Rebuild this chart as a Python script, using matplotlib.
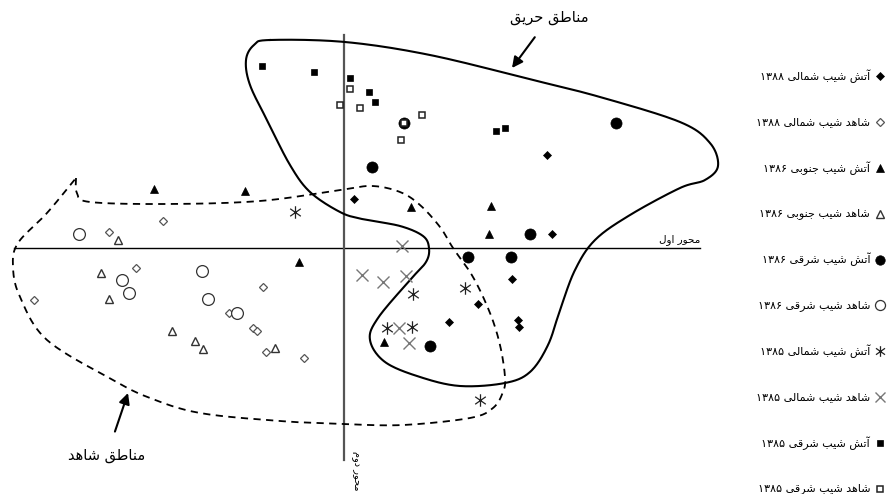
import numpy as np
import matplotlib
matplotlib.use('Agg')
import matplotlib.pyplot as plt
from matplotlib.path import Path

# ---------------- data (scores: x to the right, y upward, origin at axis crossing) ----------------
fire_n88_x = [203, 208, 168, 134, 105, 174, 175, 10]
fire_n88_y = [93, 14, -31, -56, -74, -72, -79, 49]
ctrl_n88_x = [-181, -235, -208, -310, -81, -115, -91, -87, -78, -40]
ctrl_n88_y = [27, 16, -20, -52, -39, -65, -80, -83, -104, -110]
fire_s86_x = [-190, -99, -45, 67, 147, 145, 40]
fire_s86_y = [59, 57, -14, 41, 42, 14, -94]
ctrl_s86_x = [-226, -243, -235, -172, -149, -141, -69]
ctrl_s86_y = [8, -25, -51, -83, -93, -101, -100]
fire_e86_x = [60, 272, 28, 186, 124, 167, 86]
fire_e86_y = [125, 125, 81, 14, -9, -9, -98]
ctrl_e86_x = [-265, -222, -215, -142, -136, -107]
ctrl_e86_y = [14, -32, -45, -23, -51, -65]
fire_n85_x = [-49, 69, 121, 43, 68, 136]
fire_n85_y = [36, -46, -40, -80, -79, -152]
ctrl_n85_x = [58, 18, 39, 62, 55, 65]
ctrl_n85_y = [2, -27, -34, -28, -80, -95]
fire_e85_x = [-82, -30, 6, 25, 31, 152, 161]
fire_e85_y = [182, 176, 170, 156, 146, 117, 120]
ctrl_e85_x = [6, -4, 16, 78, 57, 60]
ctrl_e85_y = [159, 143, 140, 133, 108, 125]

legend_labels = ['آتش شیب شمالی ۱۳۸۸', 'شاهد شیب شمالی ۱۳۸۸',
                 'آتش شیب جنوبی ۱۳۸۶', 'شاهد شیب جنوبی ۱۳۸۶',
                 'آتش شیب شرقی ۱۳۸۶', 'شاهد شیب شرقی ۱۳۸۶',
                 'آتش شیب شمالی ۱۳۸۵', 'شاهد شیب شمالی ۱۳۸۵',
                 'آتش شیب شرقی ۱۳۸۵', 'شاهد شیب شرقی ۱۳۸۵']

# outlines of the hand drawn regions
fire_zone = [(-74, 208), (1, 206), (86, 193), (189, 168), (256, 151), (336, 126),
             (366, 105), (374, 82), (361, 68), (336, 60), (286, 33), (251, 8),
             (231, -22), (216, -62), (204, -97), (186, -124), (161, -135),
             (116, -138), (76, -129), (41, -114), (26, -92), (34, -70), (66, -32),
             (82, -14), (85, 0), (79, 12), (56, 22), (18, 29), (-4, 36), (-34, 56),
             (-54, 83), (-76, 126), (-94, 163), (-98, 188), (-90, 203)]
ctrl_zone = [(-268, 70), (-267, 55), (-254, 46), (-177, 44), (-84, 47), (-4, 58),
             (28, 62), (56, 56), (76, 43), (96, 21), (109, 0), (129, -29),
             (146, -65), (156, -97), (161, -129), (159, -144), (149, -160),
             (126, -170), (59, -177), (-1, -176), (-64, -173), (-144, -165),
             (-194, -150), (-231, -132), (-297, -92), (-324, -49), (-331, -19),
             (-326, 5), (-297, 35), (-268, 70)]

# ---------------- Persian shaping helpers ----------------
FORMS = {
    '\u0627': ('\uFE8D', '\uFE8E', None, None),
    '\u0622': ('\uFE81', '\uFE82', None, None),
    '\u0628': ('\uFE8F', '\uFE90', '\uFE91', '\uFE92'),
    '\u062A': ('\uFE95', '\uFE96', '\uFE97', '\uFE98'),
    '\u062C': ('\uFE9D', '\uFE9E', '\uFE9F', '\uFEA0'),
    '\u062D': ('\uFEA1', '\uFEA2', '\uFEA3', '\uFEA4'),
    '\u062F': ('\uFEA9', '\uFEAA', None, None),
    '\u0631': ('\uFEAD', '\uFEAE', None, None),
    '\u0634': ('\uFEB5', '\uFEB6', '\uFEB7', '\uFEB8'),
    '\u0637': ('\uFEC1', '\uFEC2', '\uFEC3', '\uFEC4'),
    '\u0642': ('\uFED5', '\uFED6', '\uFED7', '\uFED8'),
    '\u0644': ('\uFEDD', '\uFEDE', '\uFEDF', '\uFEE0'),
    '\u0645': ('\uFEE1', '\uFEE2', '\uFEE3', '\uFEE4'),
    '\u0646': ('\uFEE5', '\uFEE6', '\uFEE7', '\uFEE8'),
    '\u0647': ('\uFEE9', '\uFEEA', '\uFEEB', '\uFEEC'),
    '\u0648': ('\uFEED', '\uFEEE', None, None),
    '\u06CC': ('\uFEEF', '\uFEF0', '\uFEF3', '\uFEF4'),
    '\u064A': ('\uFEEF', '\uFEF0', '\uFEF3', '\uFEF4'),
}


def shape_word(w):
    if all(c not in FORMS for c in w):
        return w
    out = []
    n = len(w)
    for i, c in enumerate(w):
        if c not in FORMS:
            out.append(c)
            continue
        f = FORMS[c]
        prev = w[i - 1] if i > 0 else None
        nxt = w[i + 1] if i < n - 1 else None
        jp = prev in FORMS and FORMS[prev][2] is not None
        jn = nxt in FORMS and f[2] is not None
        if jp and jn:
            g = f[3]
        elif jp:
            g = f[1]
        elif jn:
            g = f[2]
        else:
            g = f[0]
        out.append(g)
    return ''.join(reversed(out))


def words_rtl(t):
    return ' '.join(shape_word(w) for w in reversed(t.split()))


def catmull(pts, closed, n=24):
    P = np.asarray(pts, float)
    if closed:
        P = np.vstack([P[-1], P, P[0], P[1]])
    else:
        P = np.vstack([P[0], P, P[-1]])
    t = np.linspace(0, 1, n)[:, None]
    segs = []
    for i in range(1, len(P) - 2):
        p0, p1, p2, p3 = P[i - 1], P[i], P[i + 1], P[i + 2]
        seg = 0.5 * (2 * p1 + (-p0 + p2) * t + (2 * p0 - 5 * p1 + 4 * p2 - p3) * t ** 2
                     + (-p0 + 3 * p1 - 3 * p2 + p3) * t ** 3)
        segs.append(seg)
    return np.vstack(segs)


# asterisk-like marker: vertical bar plus a cross
star = Path([(0, -1), (0, 1), (-0.85, -0.6), (0.85, 0.6), (-0.85, 0.6), (0.85, -0.6)],
            [Path.MOVETO, Path.LINETO, Path.MOVETO, Path.LINETO, Path.MOVETO, Path.LINETO])

# ---------------- figure ----------------
plt.rcParams['font.family'] = ['DejaVu Sans']
fig = plt.figure(figsize=(8.91, 4.94), dpi=100)
ax = fig.add_axes([0, 0, 1, 1])
ax.set_xlim(-344, 547)
ax.set_ylim(-246, 248)
ax.axis('off')

# axes of the ordination
ax.plot([-330, 356], [0, 0], color='black', lw=1.0, zorder=1)
ax.plot([0, 0], [213, -212], color='#555555', lw=1.6, zorder=1)
ax.text(356, 3, words_rtl('محور اول'), ha='right', va='bottom', fontsize=7.5)
ax.text(12, -203, words_rtl('محور دوم'), rotation=270, ha='center', va='top', fontsize=7)

# regions
fz = catmull(fire_zone, closed=True)
ax.plot(fz[:, 0], fz[:, 1], color='black', lw=1.5, zorder=2)
cz = catmull(ctrl_zone, closed=False)
ax.plot(cz[:, 0], cz[:, 1], color='black', lw=1.3, ls=(0, (4, 3)), zorder=2)

series = [
    (fire_n88_x, fire_n88_y, dict(marker='D', ms=4.5, mfc='black', mec='black', mew=0.5)),
    (ctrl_n88_x, ctrl_n88_y, dict(marker='D', ms=4.5, mfc='white', mec='#555555', mew=0.9)),
    (fire_s86_x, fire_s86_y, dict(marker='^', ms=6, mfc='black', mec='black', mew=0.5)),
    (ctrl_s86_x, ctrl_s86_y, dict(marker='^', ms=6, mfc='white', mec='#333333', mew=1.0)),
    (fire_e86_x, fire_e86_y, dict(marker='o', ms=8, mfc='black', mec='black', mew=0.5)),
    (ctrl_e86_x, ctrl_e86_y, dict(marker='o', ms=8.5, mfc='white', mec='#333333', mew=0.9)),
    (fire_n85_x, fire_n85_y, dict(marker=star, ms=9, mfc='none', mec='#222222', mew=0.9)),
    (ctrl_n85_x, ctrl_n85_y, dict(marker='x', ms=9, mfc='none', mec='#777777', mew=1.0)),
    (fire_e85_x, fire_e85_y, dict(marker='s', ms=5, mfc='black', mec='black', mew=0.5)),
    (ctrl_e85_x, ctrl_e85_y, dict(marker='s', ms=5, mfc='white', mec='#222222', mew=1.1)),
]
for xs, ys, st in series:
    ax.plot(xs, ys, ls='none', zorder=3, **st)

# legend (hand placed, marker at the right of the text)
leg_y = np.linspace(172, -241, len(legend_labels))
for (xs, ys, st), lab, yy in zip(series, legend_labels, leg_y):
    st2 = dict(st)
    st2['ms'] = st['ms'] * 0.85
    ax.plot([536], [yy], ls='none', **st2)
    ax.text(526, yy, words_rtl(lab), ha='right', va='center', fontsize=8)

# zone annotations
ax.annotate(words_rtl('مناطق حریق'), xy=(168, 180), xytext=(205, 230),
            ha='center', va='center', fontsize=10.5,
            arrowprops=dict(arrowstyle='-|>', color='black', lw=1.5,
                            mutation_scale=16, shrinkA=8, shrinkB=0))
ax.annotate(words_rtl('مناطق شاهد'), xy=(-216, -145), xytext=(-237, -207),
            ha='center', va='center', fontsize=10.5,
            arrowprops=dict(arrowstyle='-|>', color='black', lw=1.5,
                            mutation_scale=16, shrinkA=10, shrinkB=0))

fig.savefig('out.png', dpi=100)
